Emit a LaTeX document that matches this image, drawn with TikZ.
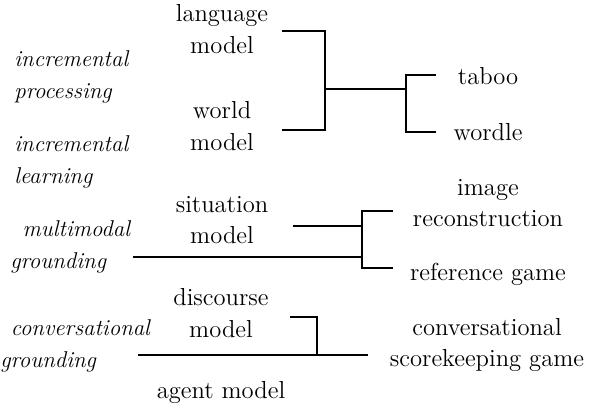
\documentclass[tikz,border=0pt]{standalone}
\begin{document}
\begin{tikzpicture}[x=0.02cm,y=-0.02cm,
  lbl/.style={font=\fontsize{14}{18}\selectfont,align=center,inner sep=0pt},
  tag/.style={font=\fontsize{13}{18}\selectfont\itshape,align=left,anchor=west,inner sep=0pt},
  bar/.style={line width=0.9pt}]
  \useasboundingbox (0,0) rectangle (592,408);
  % models (middle column)
  \node[lbl] (lm) at (222,29) {language\\model};
  \node[lbl] (wm) at (222,126) {world\\model};
  \node[lbl] (sm) at (222,220) {situation\\model};
  \node[lbl] (dm) at (221,313) {discourse\\model};
  \node[lbl] (am) at (221,392) {agent model};
  % properties (left column, italic)
  \node[tag] (ip) at (14,77) {incremental\\processing};
  \node[tag] (il) at (14,162) {incremental\\learning};
  \node[tag] (mg) at (10,247) {\hspace*{7pt}multimodal\\grounding};
  \node[tag] (cg) at (0,346) {\hspace*{6pt}conversational\\grounding};
  % games (right column)
  \node[lbl] (tb) at (488,76) {taboo};
  \node[lbl] (wd) at (488,132) {wordle};
  \node[lbl] (ir) at (488,203) {image\\reconstruction};
  \node[lbl] (rg) at (488,274) {reference game};
  \node[lbl] (cs) at (487,345) {conversational\\scorekeeping game};
  % bracket: language + world model
  \coordinate (lmE) at (282,31);
  \coordinate (wmE) at (282,130);
  \coordinate (j1a) at (325,31);
  \coordinate (j1b) at (325,130);
  \coordinate (j1) at (325,89);
  \draw[bar] (lmE) -- (j1a) -- (j1b) -- (wmE);
  % fork to taboo and wordle
  \coordinate (f1) at (406,89);
  \coordinate (f1a) at (406,75);
  \coordinate (f1b) at (406,132);
  \coordinate (tbW) at (436,75);
  \coordinate (wdW) at (436,132);
  \draw[bar] (j1) -- (f1);
  \draw[bar] (tbW) -- (f1a) -- (f1b) -- (wdW);
  % situation model + multimodal grounding
  \coordinate (smE) at (293,226);
  \coordinate (mgE) at (133,257);
  \coordinate (f2a) at (362,211);
  \coordinate (f2b) at (362,268);
  \coordinate (f2c) at (362,226);
  \coordinate (f2d) at (362,257);
  \coordinate (irW) at (393,211);
  \coordinate (rgW) at (393,268);
  \draw[bar] (smE) -- (f2c);
  \draw[bar] (mgE) -- (f2d);
  \draw[bar] (irW) -- (f2a) -- (f2b) -- (rgW);
  % discourse model + conversational grounding
  \coordinate (dmE) at (290,317);
  \coordinate (j3a) at (317,317);
  \coordinate (j3) at (317,355);
  \coordinate (cgE) at (138,355);
  \coordinate (csW) at (368,355);
  \draw[bar] (dmE) -- (j3a) -- (j3);
  \draw[bar] (cgE) -- (csW);
\end{tikzpicture}
\end{document}
